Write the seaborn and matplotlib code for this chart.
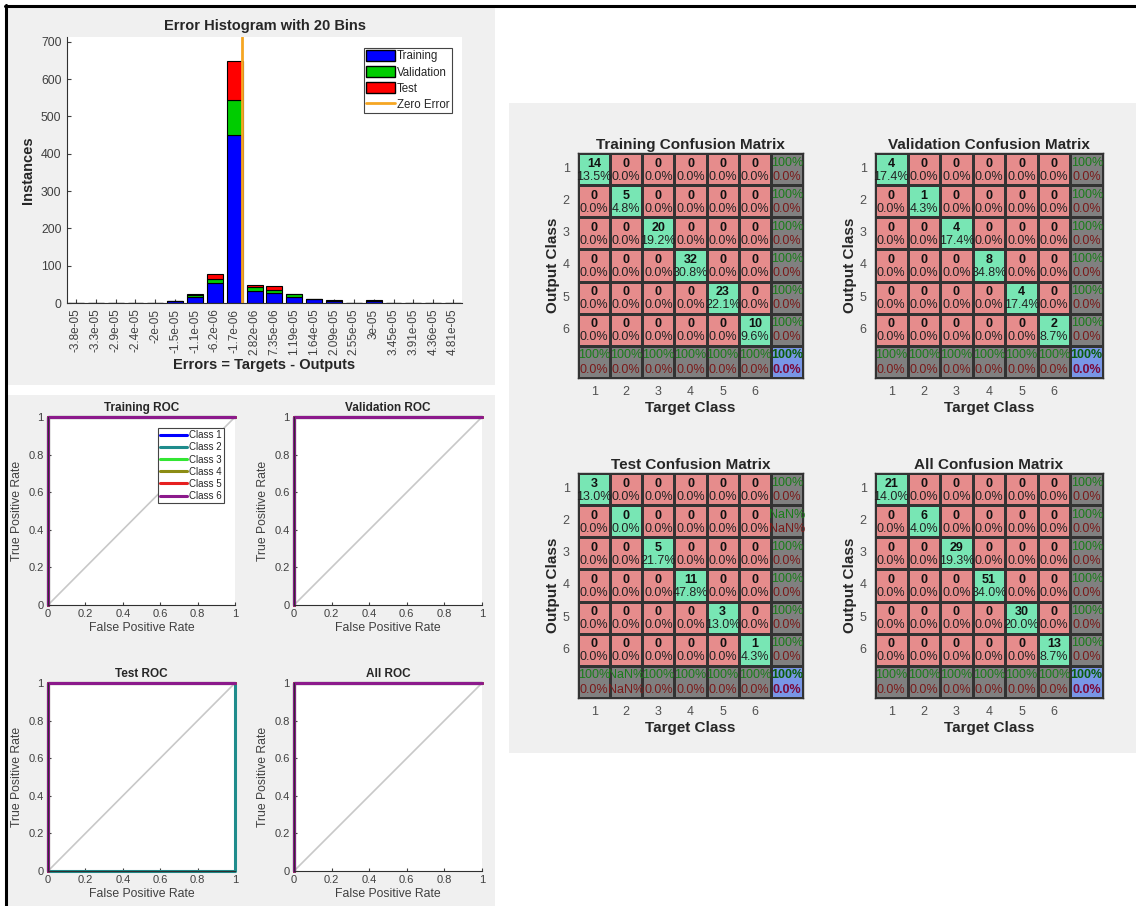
import numpy as np
import matplotlib
matplotlib.use("Agg")
import matplotlib.pyplot as plt
from matplotlib.colors import ListedColormap
from matplotlib.patches import Rectangle, Patch
from matplotlib.lines import Line2D
import seaborn as sns

# ---------------- data ----------------
bin_labels = ["-3.8e-05", "-3.3e-05", "-2.9e-05", "-2.4e-05", "-2e-05", "-1.5e-05",
              "-1.1e-05", "-6.2e-06", "-1.7e-06", "2.82e-06", "7.35e-06", "1.19e-05",
              "1.64e-05", "2.09e-05", "2.55e-05", "3e-05", "3.45e-05", "3.91e-05",
              "4.36e-05", "4.81e-05"]
bin_centers = [-3.8e-05, -3.3e-05, -2.9e-05, -2.4e-05, -2.0e-05, -1.5e-05, -1.1e-05,
               -6.2e-06, -1.7e-06, 2.82e-06, 7.35e-06, 1.19e-05, 1.64e-05, 2.09e-05,
               2.55e-05, 3.0e-05, 3.45e-05, 3.91e-05, 4.36e-05, 4.81e-05]
train_counts = [0, 0, 0, 0, 0, 6, 17, 53, 450, 33, 27, 17, 10, 5, 0, 6, 0, 0, 0, 0]
val_counts = [0, 0, 0, 0, 0, 0, 5, 12, 95, 9, 9, 6, 1, 1, 0, 0, 0, 0, 0, 0]
test_counts = [0, 0, 0, 0, 0, 0, 2, 12, 103, 7, 10, 2, 0, 1, 0, 1, 0, 0, 0, 0]
hist_yticks = [0, 100, 200, 300, 400, 500, 600, 700]

class_names = ["Class 1", "Class 2", "Class 3", "Class 4", "Class 5", "Class 6"]
roc_sets = ["Training ROC", "Validation ROC", "Test ROC", "All ROC"]
perfect_fpr = [0, 0, 1]
perfect_tpr = [0, 1, 1]
test_class2_fpr = [0, 1, 1]
test_class2_tpr = [0, 0, 1]
roc_ticks = [0, 0.2, 0.4, 0.6, 0.8, 1]

cm_titles = ["Training Confusion Matrix", "Validation Confusion Matrix",
             "Test Confusion Matrix", "All Confusion Matrix"]
cm_train = [[14, 0, 0, 0, 0, 0], [0, 5, 0, 0, 0, 0], [0, 0, 20, 0, 0, 0],
            [0, 0, 0, 32, 0, 0], [0, 0, 0, 0, 23, 0], [0, 0, 0, 0, 0, 10]]
cm_val = [[4, 0, 0, 0, 0, 0], [0, 1, 0, 0, 0, 0], [0, 0, 4, 0, 0, 0],
          [0, 0, 0, 8, 0, 0], [0, 0, 0, 0, 4, 0], [0, 0, 0, 0, 0, 2]]
cm_test = [[3, 0, 0, 0, 0, 0], [0, 0, 0, 0, 0, 0], [0, 0, 5, 0, 0, 0],
           [0, 0, 0, 11, 0, 0], [0, 0, 0, 0, 3, 0], [0, 0, 0, 0, 0, 1]]
cm_all = [[21, 0, 0, 0, 0, 0], [0, 6, 0, 0, 0, 0], [0, 0, 29, 0, 0, 0],
          [0, 0, 0, 51, 0, 0], [0, 0, 0, 0, 30, 0], [0, 0, 0, 0, 0, 13]]
class_ticks = ["1", "2", "3", "4", "5", "6"]

# ---------------- style ----------------
sns.set_style("white")
plt.rcParams['font.family'] = ['Liberation Sans', 'DejaVu Sans']

W, H = 1136, 906
fig = plt.figure(figsize=(W / 100, H / 100), dpi=100)
fig.patch.set_facecolor("white")


def fbox(x0, y0, x1, y1):
    """pixel box (top-left origin) -> figure fraction [l, b, w, h]"""
    return [x0 / W, 1 - y1 / H, (x1 - x0) / W, (y1 - y0) / H]


panel_gray = "#f0f0f0"
for (x0, y0, x1, y1) in [(8, 8, 495, 385), (8, 395, 495, 906), (509, 103, 1136, 753)]:
    l, b, w, h = fbox(x0, y0, x1, y1)
    fig.add_artist(Rectangle((l, b), w, h, transform=fig.transFigure,
                             facecolor=panel_gray, edgecolor="none", zorder=-5))
fig.add_artist(Line2D([6 / W, 6 / W], [0, 1 - 5 / H], transform=fig.transFigure,
                      color="black", lw=2.2, zorder=-4))
fig.add_artist(Line2D([5 / W, 1], [1 - 6 / H, 1 - 6 / H], transform=fig.transFigure,
                      color="black", lw=2.2, zorder=-4))

tick_gray = "#404040"

# ---------------- histogram ----------------
axh = fig.add_axes(fbox(67, 37, 462, 303))
axh.set_facecolor("white")
idx = np.arange(len(bin_labels))
tr = np.array(train_counts)
va = np.array(val_counts)
te = np.array(test_counts)
axh.bar(idx, tr, width=0.8, color="#0000ff", edgecolor="black", linewidth=0.8)
axh.bar(idx, va, bottom=tr, width=0.8, color="#00cc00", edgecolor="black", linewidth=0.8)
axh.bar(idx, te, bottom=tr + va, width=0.8, color="#ff0000", edgecolor="black", linewidth=0.8)
zero_pos = np.interp(0.0, bin_centers, idx)
axh.axvline(zero_pos, color="#f5a623", lw=2)
axh.set_xlim(-0.45, len(bin_labels) - 0.55)
axh.set_ylim(0, 713)
axh.set_xticks(idx)
axh.set_xticklabels(bin_labels, rotation=90, fontsize=8.5, color=tick_gray)
axh.set_yticks(hist_yticks)
axh.set_yticklabels([str(v) for v in hist_yticks], fontsize=8.8, color=tick_gray)
axh.tick_params(direction="in", length=3, color="#404040", bottom=True, left=True, pad=4)
for s in ["top", "right"]:
    axh.spines[s].set_visible(False)
for s in ["left", "bottom"]:
    axh.spines[s].set_color("#303030")
    axh.spines[s].set_linewidth(0.8)
axh.set_title("Error Histogram with 20 Bins", fontsize=10.5, fontweight="bold", pad=5)
axh.set_ylabel("Instances", fontsize=10.5, fontweight="bold", labelpad=4)
axh.set_xlabel("Errors = Targets - Outputs", fontsize=10.5, fontweight="bold", labelpad=2)
handles = [Patch(facecolor="#0000ff", edgecolor="black", label="Training"),
           Patch(facecolor="#00cc00", edgecolor="black", label="Validation"),
           Patch(facecolor="#ff0000", edgecolor="black", label="Test"),
           Line2D([0], [0], color="#f5a623", lw=2, label="Zero Error")]
lg = axh.legend(handles=handles, loc="upper right", bbox_to_anchor=(0.975, 0.96),
                fontsize=8.3, fancybox=False, edgecolor="#444444", framealpha=1,
                borderpad=0.2, labelspacing=0.32, handlelength=2.5, handleheight=1.1,
                handletextpad=0.2, borderaxespad=0)
lg.get_frame().set_linewidth(0.8)

# ---------------- ROC ----------------
roc_colors = ["#0000ff", "#1f8c8c", "#33e633", "#8c8c14", "#e62020", "#8c1a8c"]
roc_boxes = [(48, 417, 235, 605), (294, 417, 482, 605),
             (48, 683, 235, 871), (294, 683, 482, 871)]
for k, (name, box) in enumerate(zip(roc_sets, roc_boxes)):
    ax = fig.add_axes(fbox(*box))
    ax.set_facecolor("white")
    sns.lineplot(x=[0, 1], y=[0, 1], color="#c8c8c8", lw=1.2, ax=ax,
                 estimator=None, sort=False)
    for c, cname in enumerate(class_names):
        if name == "Test ROC" and c == 1:
            fx, fy = test_class2_fpr, test_class2_tpr
        else:
            fx, fy = perfect_fpr, perfect_tpr
        sns.lineplot(x=fx, y=fy, color=roc_colors[c], lw=2.2, ax=ax,
                     estimator=None, sort=False,
                     label=cname if k == 0 else None)
    for ln in ax.get_lines():
        ln.set_clip_on(False)
    ax.set_xlim(0, 1)
    ax.set_ylim(0, 1)
    ax.set_xticks(roc_ticks)
    ax.set_yticks(roc_ticks)
    lab = ["0", "0.2", "0.4", "0.6", "0.8", "1"]
    ax.set_xticklabels(lab, fontsize=8, color=tick_gray)
    ax.set_yticklabels(lab, fontsize=8, color=tick_gray)
    ax.tick_params(direction="in", length=2.5, color="#404040", bottom=True, left=True, pad=3)
    for s in ["top", "right"]:
        ax.spines[s].set_visible(False)
    for s in ["left", "bottom"]:
        ax.spines[s].set_color("#303030")
        ax.spines[s].set_linewidth(0.8)
    ax.set_title(name, fontsize=8.5, fontweight="bold", pad=4)
    ax.set_xlabel("False Positive Rate", fontsize=8.8, color="#404040", labelpad=2)
    ax.set_ylabel("True Positive Rate", fontsize=8.8, color="#404040", labelpad=4)
    if k == 0:
        lg2 = ax.legend(loc="upper right", bbox_to_anchor=(0.94, 0.94), fontsize=7,
                        fancybox=False, edgecolor="#444444", framealpha=1,
                        borderpad=0.2, labelspacing=0.22, handlelength=2.8,
                        handletextpad=0.2, borderaxespad=0)
        lg2.get_frame().set_linewidth(0.8)
    elif ax.get_legend() is not None:
        ax.get_legend().remove()

# ---------------- confusion matrices ----------------
c_red, c_green, c_gray, c_blue = "#e68c8c", "#78e6b4", "#808080", "#7896e6"
cmap = ListedColormap([c_red, c_green, c_gray, c_blue])
cm_boxes = [(578, 153, 803, 378), (875, 153, 1103, 378),
            (578, 473, 803, 698), (875, 473, 1103, 698)]


def pct_text(p):
    if np.isnan(p):
        return "NaN%"
    if round(p, 1) == 100:
        return "100%"
    return f"{p:.1f}%"


for title, data, box in zip(cm_titles, [cm_train, cm_val, cm_test, cm_all], cm_boxes):
    cm = np.array(data, dtype=float)
    n = cm.shape[0]
    total = cm.sum()
    cat = np.zeros((n + 1, n + 1))
    for i in range(n):
        cat[i, i] = 1
    cat[n, :] = 2
    cat[:, n] = 2
    cat[n, n] = 3
    ax = fig.add_axes(fbox(*box))
    sns.heatmap(cat, cmap=cmap, vmin=-0.5, vmax=3.5, cbar=False, linewidths=0.8,
                linecolor="#333333", ax=ax, xticklabels=class_ticks + [""],
                yticklabels=class_ticks + [""])
    for s in ax.spines.values():
        s.set_visible(True)
        s.set_color("#333333")
        s.set_linewidth(1.0)
    with np.errstate(invalid="ignore", divide="ignore"):
        prec = 100 * np.diag(cm) / cm.sum(axis=1)
        rec = 100 * np.diag(cm) / cm.sum(axis=0)
    acc = 100 * np.trace(cm) / total
    for i in range(n):
        for j in range(n):
            ax.text(j + 0.5, i + 0.33, f"{int(cm[i, j])}", ha="center", va="center",
                    fontsize=9, fontweight="bold", color="#111111")
            ax.text(j + 0.5, i + 0.74, f"{100 * cm[i, j] / total:.1f}%", ha="center",
                    va="center", fontsize=9, color="#222222")
    for i in range(n):
        ax.text(n + 0.5, i + 0.3, pct_text(prec[i]), ha="center", va="center",
                fontsize=9, color="#1a7d1a")
        ax.text(n + 0.5, i + 0.74, pct_text(100 - prec[i]) if not np.isnan(prec[i]) else "NaN%",
                ha="center", va="center", fontsize=9, color="#7a1a1a")
    for j in range(n):
        ax.text(j + 0.5, n + 0.3, pct_text(rec[j]), ha="center", va="center",
                fontsize=9, color="#1a7d1a")
        ax.text(j + 0.5, n + 0.74, pct_text(100 - rec[j]) if not np.isnan(rec[j]) else "NaN%",
                ha="center", va="center", fontsize=9, color="#7a1a1a")
    ax.text(n + 0.5, n + 0.3, pct_text(acc), ha="center", va="center", fontsize=9,
            color="#0b5e0b", fontweight="bold")
    ax.text(n + 0.5, n + 0.74, pct_text(100 - acc), ha="center", va="center", fontsize=9,
            color="#7a0a3a", fontweight="bold")
    ax.tick_params(length=0, labelsize=9, labelcolor="#505050", pad=6)
    ax.set_yticklabels(class_ticks + [""], rotation=0)
    ax.set_title(title, fontsize=11, fontweight="bold", pad=3)
    ax.set_xlabel("Target Class", fontsize=11, fontweight="bold", labelpad=2)
    ax.set_ylabel("Output Class", fontsize=11, fontweight="bold", labelpad=2)

fig.savefig("out.png", dpi=100, facecolor="white")
